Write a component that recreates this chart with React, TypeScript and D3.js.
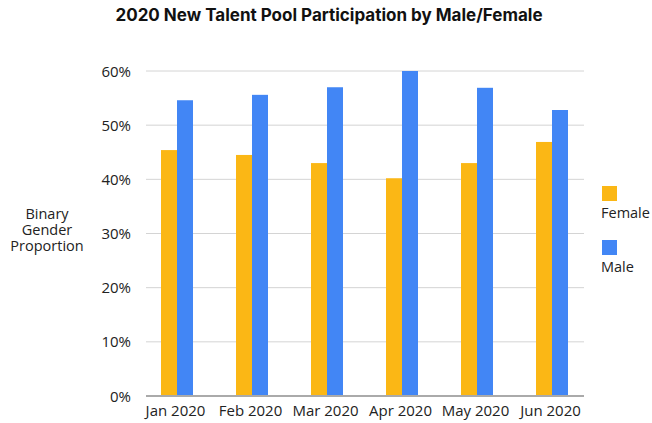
import React from 'react';
import * as d3 from 'd3';

const months = ['Jan 2020', 'Feb 2020', 'Mar 2020', 'Apr 2020', 'May 2020', 'Jun 2020'];
const female = [0.454, 0.445, 0.430, 0.402, 0.430, 0.469];
const male = [0.546, 0.556, 0.570, 0.600, 0.569, 0.528];
const yTicks = [0, 0.1, 0.2, 0.3, 0.4, 0.5, 0.6];
const seriesNames = ['Female', 'Male'];
const colors = ['#FBB715', '#4286F5'];

export default function App() {
  const width = 652;
  const height = 423;
  const left = 146, right = 584, top = 71, bottom = 396;

  const y = d3.scaleLinear().domain([0, 0.6]).range([bottom, top]);
  const x = d3.scalePoint<string>().domain(months).range([177, 552]);
  const barW = 16;
  const fmt = d3.format('.0%');
  const font = '"Open Sans", sans-serif';

  return (
    <svg width={width} height={height} style={{ position: 'absolute', left: 0, top: 0 }}>
      <rect width={width} height={height} fill="#fff" />
      <text x={329} y={21} textAnchor="middle" fontFamily="Inter, sans-serif" fontWeight={700} fontSize={17} fill="#111">
        2020 New Talent Pool Participation by Male/Female
      </text>

      {yTicks.map(t => (
        <g key={t}>
          {t > 0 && <line x1={left} x2={right} y1={y(t)} y2={y(t)} stroke="#d4d4d4" strokeWidth={1} />}
          <text x={131} y={y(t) + 5.5} textAnchor="end" fontFamily={font} fontSize={15} fill="#222">{fmt(t)}</text>
        </g>
      ))}

      {months.map((m, i) => (
        <g key={m}>
          <rect x={x(m)! - barW} y={y(female[i])} width={barW} height={bottom - y(female[i])} fill={colors[0]} />
          <rect x={x(m)!} y={y(male[i])} width={barW} height={bottom - y(male[i])} fill={colors[1]} />
          <text x={x(m)! - 1.5} y={416} textAnchor="middle" fontFamily={font} fontSize={15} fill="#222">{m}</text>
        </g>
      ))}

      <line x1={left} x2={right} y1={bottom} y2={bottom} stroke="#aaa" strokeWidth={2} />

      <text fontFamily={font} fontSize={14.5} fill="#222" textAnchor="middle">
        <tspan x={47} y={218.5}>Binary</tspan>
        <tspan x={47} y={234.5}>Gender</tspan>
        <tspan x={47} y={250.5}>Proportion</tspan>
      </text>

      {seriesNames.map((s, i) => (
        <g key={s}>
          <rect x={602} y={186 + i * 54} width={15} height={15} fill={colors[i]} />
          <text x={601} y={217.5 + i * 54} fontFamily={font} fontSize={14.5} fill="#222">{s}</text>
        </g>
      ))}
    </svg>
  );
}
